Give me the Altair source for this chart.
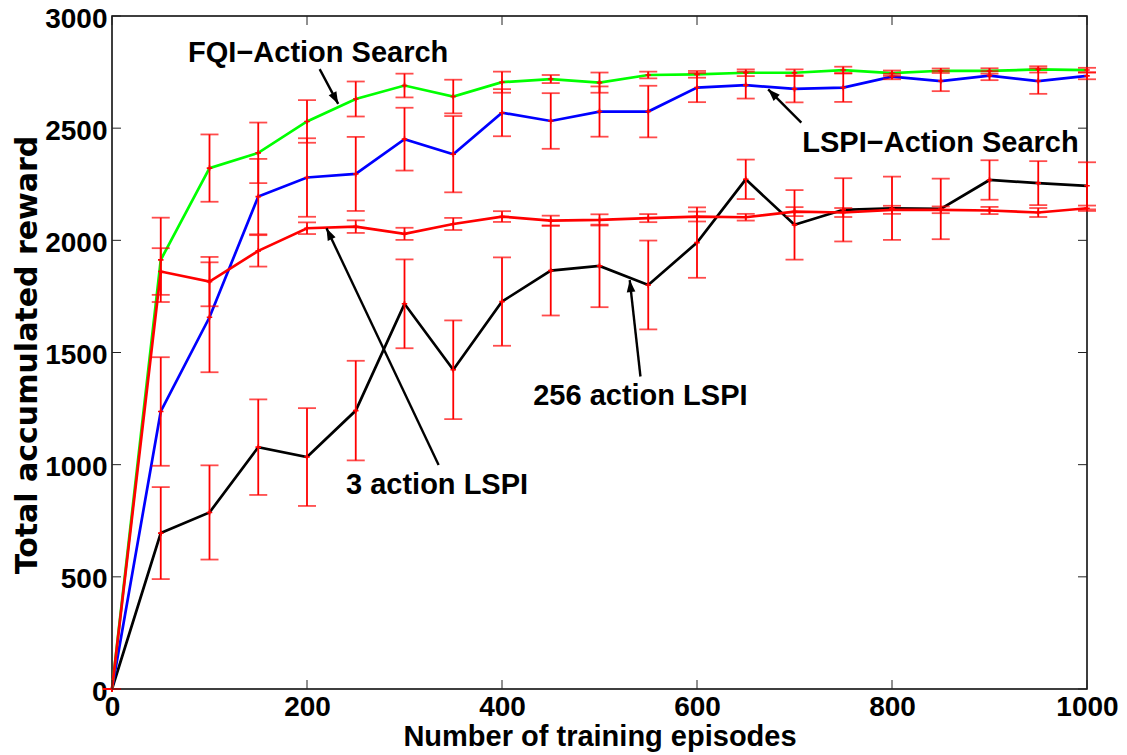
import math
import altair as alt
import pandas as pd

# ---------------- data ----------------
episodes = [0, 50, 100, 150, 200, 250, 300, 350, 400, 450, 500,
            550, 600, 650, 700, 750, 800, 850, 900, 950, 1000]

fqi_as_mean = [0, 1913, 2322, 2390, 2530, 2630, 2690, 2641, 2705, 2719, 2703,
               2737, 2740, 2747, 2747, 2759, 2745, 2756, 2755, 2762, 2759]
fqi_as_err = [0, 188, 150, 135, 95, 78, 53, 75, 47, 18, 45,
              15, 15, 15, 15, 15, 12, 10, 12, 14, 10]

lspi_as_mean = [0, 1237, 1657, 2195, 2280, 2296, 2451, 2384, 2569, 2532, 2574,
                2574, 2681, 2692, 2675, 2681, 2730, 2710, 2734, 2710, 2733]
lspi_as_err = [0, 242, 245, 168, 175, 165, 140, 170, 105, 124, 112,
               115, 65, 60, 60, 64, 12, 45, 20, 57, 15]

lspi3_mean = [0, 1861, 1816, 1953, 2054, 2061, 2029, 2073, 2106, 2088, 2091,
              2099, 2106, 2103, 2128, 2124, 2136, 2136, 2133, 2124, 2143]
lspi3_err = [0, 104, 110, 70, 26, 28, 27, 27, 24, 22, 25,
             18, 22, 15, 20, 20, 18, 15, 16, 20, 12]

lspi256_mean = [0, 695, 787, 1078, 1034, 1241, 1717, 1423, 1727, 1865, 1886,
                1801, 1990, 2272, 2069, 2136, 2143, 2140, 2269, 2255, 2243]
lspi256_err = [0, 205, 210, 213, 218, 222, 198, 220, 197, 200, 184,
               198, 157, 88, 155, 141, 141, 135, 88, 98, 105]

series_names = ["256 action LSPI", "LSPI-Action Search", "FQI-Action Search", "3 action LSPI"]
series_colors = ["#000000", "#0000ff", "#00ff00", "#ff0000"]

x_ticks = [0, 200, 400, 600, 800, 1000]
y_ticks = [0, 500, 1000, 1500, 2000, 2500, 3000]

# annotations: label text, text anchor (data coords), arrow tail, arrow head
ann_text = ["FQI\u2212Action Search", "LSPI\u2212Action Search", "3 action LSPI", "256 action LSPI"]
ann_x = [78, 708, 240, 432]
ann_y = [2795, 2394, 870, 1267]
arrow_tail_x = [213, 707, 335, 542]
arrow_tail_y = [2763, 2525, 999, 1393]
arrow_head_x = [232, 673, 220, 531]
arrow_head_y = [2608, 2673, 2054, 1823]

# ---------------- layout ----------------
W, H = 975, 673
XMAX, YMAX = 1000, 3000
FONT = "Liberation Sans"

means = [lspi256_mean, lspi_as_mean, fqi_as_mean, lspi3_mean]
errs = [lspi256_err, lspi_as_err, fqi_as_err, lspi3_err]

rows = []
for name, m, e in zip(series_names, means, errs):
    for x, v, er in zip(episodes, m, e):
        rows.append({"series": name, "episodes": x, "reward": v, "lo": v - er, "hi": v + er})
df = pd.DataFrame(rows)

xs = alt.Scale(domain=[0, XMAX], nice=False, zero=False)
ys = alt.Scale(domain=[0, YMAX], nice=False)

x_axis = alt.Axis(values=x_ticks, format="d", ticks=False, tickSize=0, domain=False, grid=False,
                  labelFont=FONT, labelFontSize=28, labelFontWeight="bold", labelColor="black",
                  labelFlush=False, labelPadding=4, labelAngle=0,
                  title="Number of training episodes", titleFont=FONT, titleFontSize=29,
                  titleFontWeight="bold", titleColor="black", titleY=56,
                  titleBaseline="alphabetic")
y_axis = alt.Axis(values=y_ticks, format="d", ticks=False, tickSize=0, domain=False, grid=False,
                  labelFont=FONT, labelFontSize=28, labelFontWeight="bold", labelColor="black",
                  labelFlush=False, labelPadding=5, labelOffset=3,
                  title="Total accumulated reward", titleFont="DejaVu Sans", titleFontSize=30,
                  titleFontWeight="bold", titleColor="black", titleX=-76, titleY=H / 2 + 2,
                  titleAngle=270, titleBaseline="alphabetic", titleAlign="center")


def X(field="episodes"):
    return alt.X(f"{field}:Q", scale=xs, axis=x_axis)


def Y(field="reward"):
    return alt.Y(f"{field}:Q", scale=ys, axis=y_axis)


layers = []
for name, col in zip(series_names, series_colors):
    sub = df[df.series == name]
    layers.append(
        alt.Chart(sub).mark_line(color=col, strokeWidth=2.7).encode(x=X(), y=Y())
    )

err_rule = alt.Chart(df).mark_rule(color="#ff0000", strokeWidth=1.8).encode(
    x=X(), y=Y("lo"), y2="hi:Q")
cap_lo = alt.Chart(df).mark_tick(color="#ff0000", orient="horizontal", size=18, thickness=1.8).encode(
    x=X(), y=Y("lo"))
cap_hi = alt.Chart(df).mark_tick(color="#ff0000", orient="horizontal", size=18, thickness=1.8).encode(
    x=X(), y=Y("hi"))
pts = alt.Chart(df).mark_point(shape="M-1,0L1,0M0,-1L0,1", color="#ff0000", size=30,
                               strokeWidth=1.6, filled=False, opacity=1).encode(x=X(), y=Y())

# inward tick marks on all four sides (box axes)
xt = pd.DataFrame({"episodes": x_ticks})
yt = pd.DataFrame({"reward": y_ticks})
tick_b = alt.Chart(xt).mark_rule(color="#222222", strokeWidth=1).encode(
    x=X(), y=alt.value(H), y2=alt.value(H - 9))
tick_t = alt.Chart(xt).mark_rule(color="#222222", strokeWidth=1).encode(
    x=X(), y=alt.value(0), y2=alt.value(9))
tick_l = alt.Chart(yt).mark_rule(color="#222222", strokeWidth=1).encode(
    y=Y(), x=alt.value(0), x2=alt.value(9))
tick_r = alt.Chart(yt).mark_rule(color="#222222", strokeWidth=1).encode(
    y=Y(), x=alt.value(W), x2=alt.value(W - 9))

# annotations
ann = pd.DataFrame({"episodes": ann_x, "reward": ann_y, "label": ann_text})
texts = alt.Chart(ann).mark_text(align="left", baseline="alphabetic", font=FONT,
                                 fontSize=29, fontWeight="bold", color="black").encode(
    x=X(), y=Y(), text="label:N")

angles = []
for tx, ty, hx, hy in zip(arrow_tail_x, arrow_tail_y, arrow_head_x, arrow_head_y):
    dx = (hx - tx) * W / XMAX
    dy = -(hy - ty) * H / YMAX  # screen y grows downward
    angles.append(math.degrees(math.atan2(dx, -dy)) % 360)
arr = pd.DataFrame({"episodes": arrow_tail_x, "reward": arrow_tail_y,
                    "hx": arrow_head_x, "hy": arrow_head_y, "ang": angles})
arrow_lines = alt.Chart(arr).mark_rule(color="black", strokeWidth=2.4).encode(
    x=X(), y=Y(), x2="hx:Q", y2="hy:Q")
arrow_heads = alt.Chart(arr).mark_point(shape="M0,0L-0.36,1L0.36,1Z", filled=True, color="black",
                                        size=580, opacity=1, strokeWidth=0).encode(
    x=X("hx"), y=Y("hy"), angle=alt.Angle("ang:Q", scale=None))

chart = alt.layer(
    *layers, err_rule, cap_lo, cap_hi, pts,
    tick_b, tick_t, tick_l, tick_r,
    arrow_lines, arrow_heads, texts,
).properties(
    width=W, height=H,
    autosize=alt.AutoSizeParams(type="none"),
    padding={"left": 104, "top": 8, "right": 32, "bottom": 66},
    background="white",
).configure_view(stroke="black", strokeWidth=1.5)

chart.save("out.html", embed_options={"renderer": "svg", "actions": False})
